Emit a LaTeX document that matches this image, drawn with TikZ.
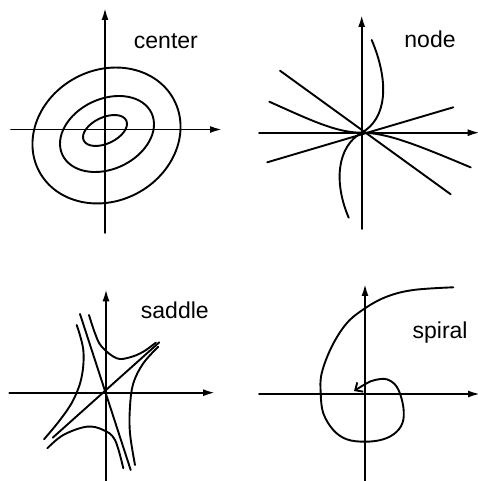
\documentclass[tikz,border=0pt]{standalone}
\usepackage{fontspec}
\setmainfont{Liberation Sans}
\usetikzlibrary{arrows.meta}

\begin{document}
\begin{tikzpicture}[x=1pt,y=1pt,>={Latex[length=12pt,width=7pt]}, line width=1.9pt,
        font=\fontsize{23}{27}\selectfont, line join=round, line cap=round]
        \useasboundingbox (0,0) rectangle (478,481);
        % center
        \begin{scope}[shift={(105,351.5)}]
        \draw[->] (-94,0)--(117,0);
        \draw[->] (0,-103.5)--(0,121.5);
        \draw[rotate around={25:(0,-1)}] (0,-1) ellipse (23.5 and 13.1);
        \draw[rotate around={25:(2,-4.5)}] (2,-4.5) ellipse (49.2 and 35.1);
        \draw[rotate around={28:(1.5,-6)}] (1.5,-6) ellipse (76.3 and 65.4);
        \node (lcenter) at (28,81.2) [anchor=base west,inner sep=0]{center};
        \end{scope}
        % node
        \begin{scope}[shift={(361.7,348.3)}]
        \draw[->] (-102.7,0)--(118,0);
        \draw[->] (0,-96.3)--(0,117.7);
        \draw (-81.7,62)--(89,-61.6);
        \draw (-94.4,-29.6)--(91.6,25.4);
        \draw (-92.4,31) .. controls (-50,12) and (-25,0) .. (0,0)
              .. controls (25,0) and (55,-12) .. (109,-34.7);
        \draw (10,92.7) .. controls (28,50) and (25,14) .. (0,0)
              .. controls (-25,-14) and (-28,-50) .. (-13,-85);
        \node (lnode) at (41.8,85.5) [anchor=base west,inner sep=0]{node};
        \end{scope}
        % saddle
        \begin{scope}[shift={(106,88.3)}]
        \draw[->] (-96.7,0)--(109,0);
        \draw[->] (0,-90)--(0,103.4);
        \draw (-53.3,-45)--(53.3,50.4);
        \draw (-26,78.7)--(24.7,-77.3);
        \draw plot[smooth,tension=0.6] coordinates {(-17,77.7) (-11,59.4) (-4.3,46) (10.7,34.4) (24,35.4) (37.3,41) (50,50.2)};
        \draw plot[smooth,tension=0.6] coordinates {(52.3,46) (37.3,29.4) (27.3,9.4) (24,-14) (24,-40.6) (29,-72.3)};
        \draw plot[smooth,tension=0.6] coordinates {(-58.7,-55.6) (-42.7,-42.3) (-19.3,-34) (-2.7,-37.3) (9,-47.3) (17.3,-75.6)};
        \draw plot[smooth,tension=0.6] coordinates {(-29.3,67.7) (-22.7,42.7) (-24.3,16) (-32.7,-7.3) (-46,-27.3) (-62,-46.6)};
        \node (lsaddle) at (34,73.7) [anchor=base west,inner sep=0]{saddle};
        \end{scope}
        % spiral
        \begin{scope}[shift={(365,87)}]
        \draw[->] (-106,0)--(115,0);
        \draw[->] (0,-90)--(0,110);
        \draw[-{Straight Barb[length=6pt,width=11pt]}] plot[smooth,tension=0.6] coordinates {(88.3,106.7) (48.3,104) (21.7,97.3) (0,85.7)
              (-18.3,70.7) (-33.3,47.3) (-43.3,20.7) (-44.3,0.7) (-41.7,-19.3) (-31.7,-36) (-18.3,-45.3)
              (0,-47.7) (18.3,-45.3) (31.7,-37.7) (38.3,-26) (37.7,-9.3) (31.7,7.3) (21.7,14.7)
              (10,14) (1.7,10.7) (-11,3)};
        \node (lspiral) at (46.7,55.7) [anchor=base west,inner sep=0]{spiral};
        \end{scope}
\end{tikzpicture}
\end{document}
